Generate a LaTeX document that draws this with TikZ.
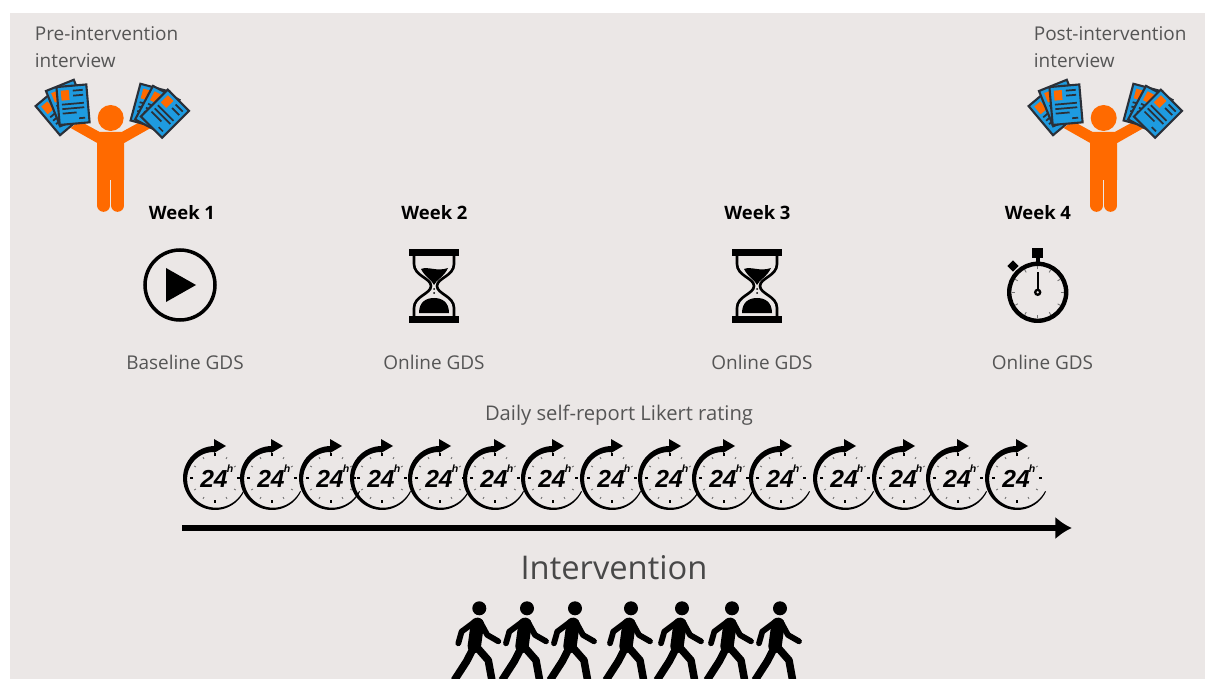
\documentclass[tikz,border=0pt]{standalone}
\usepackage{fontspec}
\setmainfont{Open Sans}
\newfontfamily\clockfont{Liberation Sans}
\usepackage{xcolor}
\usetikzlibrary{arrows.meta}
\usetikzlibrary{math}

\definecolor{panelgray}{HTML}{EBE7E6}
\definecolor{labelgray}{HTML}{555555}
\definecolor{figorange}{HTML}{FF6A00}
\definecolor{sheetblue}{HTML}{1E9BE0}
\definecolor{sheetline}{HTML}{2B3038}

\tikzset{
  smalllabel/.style={text=labelgray, font=\fontsize{10.8}{15.5}\selectfont, inner sep=0pt},
  noteslabel/.style={smalllabel, align=left, anchor=north west},
  weeklabel/.style={text=black, font=\fontsize{10.5}{13}\selectfont\bfseries, inner sep=0pt},
  sheet/.pic={
    \fill[sheetblue, draw=sheetline, line width=1.2pt] (-15,-19) rectangle (15,19);
    \fill[figorange] (-11,-15) rectangle (-3,-5);
    \draw[sheetline, line width=1pt] (1,-14) -- (11,-14);
    \draw[sheetline, line width=1pt] (1,-9) -- (11,-9);
    \draw[sheetline, line width=1pt] (-11,-1) -- (11,-1);
    \draw[sheetline, line width=1pt] (-11,3.5) -- (11,3.5);
    \draw[sheetline, line width=1pt] (-11,8) -- (3,8);
    \draw[sheetline, line width=1pt] (5,14) -- (11,14);
  },
  person/.pic={
    \fill[figorange] (0,0) circle[radius=13];
    \fill[figorange] (-40,10) -- (-31,3) -- (-11,14) -- (11,14) -- (31,3) -- (40,10)
      -- (13.5,25) -- (13.5,62) -- (-13.5,62) -- (-13.5,25) -- cycle;
    \draw[figorange, line width=7.2pt, line cap=round] (-7,58) -- (-7,87.5);
    \draw[figorange, line width=7.2pt, line cap=round] (7,58) -- (7,87.5);
    \pic[rotate=40] at (-51.4,-7) {sheet};
    \pic[rotate=22] at (-43.7,-15) {sheet};
    \pic[rotate=5] at (-37.7,-13.3) {sheet};
    \pic[rotate=-15] at (39.3,-12) {sheet};
    \pic[rotate=-28] at (46.6,-8.3) {sheet};
    \pic[rotate=-45] at (54.3,-4.3) {sheet};
  },
  hourglass/.pic={
    \fill (-25,-37) rectangle (25,-30);
    \fill (-25,30) rectangle (25,37);
    \draw[line width=1.5pt] (-20,-30) -- (-20,-22) .. controls (-20,-10) and (-3,-8) .. (-3,0)
      .. controls (-3,8) and (-20,10) .. (-20,22) -- (-20,30);
    \draw[line width=1.5pt] (20,-30) -- (20,-22) .. controls (20,-10) and (3,-8) .. (3,0)
      .. controls (3,8) and (20,10) .. (20,22) -- (20,30);
    \fill (-13,-17) .. controls (-6,-20) and (3,-14) .. (14,-18)
      .. controls (10,-9) and (2,-6) .. (0,-1) .. controls (-2,-6) and (-9,-9) .. (-13,-17) -- cycle;
    \fill (-15,27) .. controls (-15,16) and (-8,12) .. (0,12) .. controls (8,12) and (15,16) .. (15,27) -- cycle;
    \fill (0,3) circle[radius=1];
    \fill (0,7) circle[radius=1];
  },
  stopclock/.pic={
    \draw[line width=2.5pt] (0,0) circle[radius=28.5];
    \fill (-5.5,-44.3) rectangle (5.5,-34.3);
    \fill (-2.2,-34.3) rectangle (2.2,-29);
    \fill[rotate around={45:(-24.7,-26.3)}] (-28.7,-30.3) rectangle (-20.7,-22.3);
    \draw[line width=1.3pt] (0,0) -- (0,-20);
    \draw[line width=1.3pt, fill=panelgray] (0,0) circle[radius=2.5];
    \foreach \a in {0,30,...,330} {
      \draw[black!55, line width=0.5pt] (\a:23) -- (\a:26);
    }
  },
  daymark/.pic={
    \fill plot[domain=90:335, samples=40] (-\x:{32}) -- plot[domain=335:90, samples=40] (-\x:{32-(6-5*(\x-90)/245)}) -- cycle;
    \fill (-1,-39) -- (11,-32) -- (-1,-25) -- cycle;
    \foreach \a in {30,60,120,150,210,240,300,330} {
      \draw[black!55, line width=0.5pt] (\a:22) -- (\a:24);
    }
    \foreach \a in {0,90,180,270} {
      \draw[black, line width=0.7pt] (\a:22) -- (\a:25);
    }
    \node[inner sep=0pt] (num) at (-1,0.5) {\fontsize{14}{14}\clockfont\bfseries\itshape 24};
    \node[inner sep=0pt] (hr) at (15,-9.5) {\fontsize{6}{6}\clockfont\bfseries\itshape h};
  },
  walker/.pic={
    \fill (0,0) circle[radius=7];
    \draw[line width=3.3pt, line cap=round, line join=round] (-4.3,13.3) -- (-17.7,23.3) -- (-21,35);
    \draw[line width=3.3pt, line cap=round, line join=round] (0.7,13.3) -- (8,26.7) -- (19,33);
    \draw[line width=7.6pt, line cap=round] (-2,16) -- (-5,38);
    \draw[line width=4.3pt, line join=round] (-6,40) -- (-12.7,53) -- (-25,72);
    \draw[line width=4.3pt, line join=round] (-3.3,38) -- (9,52) -- (13,74);
  }
}

\begin{document}
\begin{tikzpicture}[x=0.02cm, y=-0.02cm]
\tikzmath{
\rowclock=478;
\rowwalk=608.3;
}
\useasboundingbox (0,0) rectangle (1205,679);
\clip (0,0) rectangle (1205,679);
\fill[color=panelgray] (10,13) rectangle (1205,679);

\node[noteslabel] (prenote) at (34.5,26) {Pre-intervention\\interview};
\node[noteslabel] (postnote) at (1033.5,26) {Post-intervention\\interview};

\pic at (110.7,118) {person};
\pic at (1103.7,118) {person};

\node[weeklabel] (week1) at (182,213) {Week 1};
\node[weeklabel] (week2) at (434.5,213) {Week 2};
\node[weeklabel] (week3) at (757.5,213) {Week 3};
\node[weeklabel] (week4) at (1038,213) {Week 4};

\draw[line width=2pt] (180,285) circle[radius=35];
\fill (166,268) -- (196,285) -- (166,302) -- cycle;

\pic at (434,286) {hourglass};
\pic at (757,286) {hourglass};
\pic at (1037.7,292.3) {stopclock};

\node[smalllabel] (gds1) at (185,362) {Baseline GDS};
\node[smalllabel] (gds2) at (434,362) {Online GDS};
\node[smalllabel] (gds3) at (762,362) {Online GDS};
\node[smalllabel] (gds4) at (1042.5,362) {Online GDS};
\node[smalllabel, font=\fontsize{11.5}{15.5}\selectfont] (daily) at (619,415.5) {Daily self-report Likert rating};

\foreach \cx in {215,272,331,382,440,495,553,612,670,724,781,845,904,958,1017} {
  \pic at (\cx,\rowclock) {daymark};
}

\coordinate (linestart) at (182,528);
\coordinate (lineend) at (1072,528);
\draw[-{Latex[length=9.5pt,width=13pt]}, line width=2.9pt] (linestart) -- (lineend);

\node[text=labelgray!85!black, font=\fontsize{18.6}{22}\selectfont, inner sep=0pt] (phase) at (614,567.5) {Intervention};

\foreach \cx in {479.3,527,575,631,682,732,780} {
  \pic at (\cx,\rowwalk) {walker};
}

\end{tikzpicture}
\end{document}
